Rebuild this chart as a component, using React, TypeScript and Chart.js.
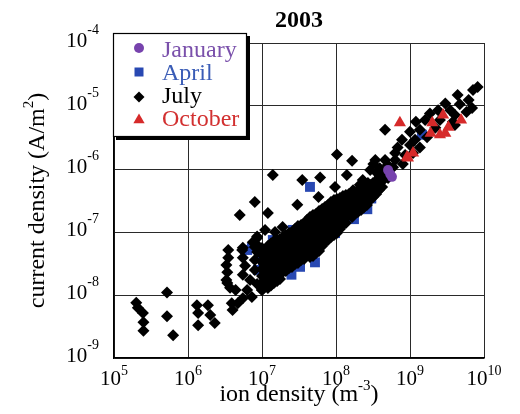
import React, { useEffect, useRef } from 'react';
import { Chart, registerables } from 'chart.js';

Chart.register(...registerables);

// ---------- data ----------
const chartTitle = '2003';
const xAxisTitle = ['ion density (m', '-3', ')'];
const yAxisTitle = ['current density (A/m', '2', ')'];
const xTickExponents = [5, 6, 7, 8, 9, 10];
const yTickExponents = [-9, -8, -7, -6, -5, -4];
const seriesNames = ['January', 'April', 'July', 'October'];

// [ion density m^-3, current density A/m^2]
const januaryPoints: [number, number][] = [
  [5.05e8, 9.6e-7], [5.7e8, 7.5e-7], [5.4e8, 8.3e-7],
];

const aprilPoints: [number, number][] = [
  [1.45e9, 3.5e-6], [4.45e7, 5.2e-7], [2.65e8, 2.3e-7], [9.7e7, 9.6e-8],
  [1.6e7, 7.46e-8], [6.3e6, 5.18e-8], [1.03e7, 3.22e-8], [2.5e7, 2.1e-8],
  [1.0e7, 3.87e-8], [8.8e6, 2.5e-8], [5.2e7, 3.3e-8], [1.13e8, 1.44e-7],
  [1.75e8, 1.6e-7], [2.6e7, 1.08e-7], [7.3e6, 5.57e-8], [1.4e7, 7.46e-8],
  [3.27e7, 2.8e-8], [3.0e8, 3.4e-7],
];

const julyPoints: [number, number][] = [
  // low-density tail
  [5.2e5, 1.1e-8], [2.0e5, 7.5e-9], [2.1e5, 6.3e-9], [2.46e5, 5.2e-9], [2.5e5, 3.7e-9],
  [2.5e5, 2.7e-9], [5.2e5, 4.6e-9], [6.3e5, 2.3e-9], [1.32e6, 6.9e-9], [1.37e6, 5.2e-9],
  [1.37e6, 3.3e-9], [1.86e6, 6.9e-9], [2.0e6, 4.8e-9], [2.3e6, 3.6e-9], [3.9e6, 7.4e-9],
  [4.0e6, 5.8e-9], [3.4e6, 1.55e-8],
  [3.5e6, 5.2e-8], [3.5e6, 3.9e-8], [3.3e6, 3.0e-8], [3.4e6, 2.3e-8], [3.3e6, 1.73e-8],
  [3.7e6, 1.3e-8], [4.4e6, 1.2e-8],
  [5.4e6, 5.2e-8], [5.5e6, 3.9e-8], [5.9e6, 2.9e-8], [5.5e6, 2.1e-8], [6.9e6, 1.73e-8],
  [6.3e6, 1.2e-8], [5.5e6, 8.9e-9], [7.3e6, 9.3e-9], [4.7e6, 7.4e-9], [8.6e6, 1.5e-8],
  [1.0e7, 1.2e-8], [8.0e6, 2.5e-8],
  [8.6e6, 8.0e-8], [8.6e6, 6.2e-8], [8.6e6, 4.8e-8], [8.0e6, 3.6e-8],
  // scattered upper points
  [5.0e6, 1.86e-7], [8.0e6, 3.0e-7], [1.2e7, 2.0e-7], [1.4e7, 8.0e-7], [8.6e6, 8.5e-8],
  [8.0e6, 5.8e-8], [1.1e7, 1.08e-7], [1.5e7, 1.0e-7], [1.9e7, 1.2e-7], [3.0e7, 2.7e-7],
  [3.5e7, 6.7e-7], [6.1e7, 7.3e-7], [5.8e7, 3.6e-7], [1.03e8, 1.7e-6], [1.65e8, 1.35e-6],
  [9.7e7, 5.2e-7], [1.7e8, 4.6e-7], [2.7e8, 6.0e-7], [3.6e8, 8.6e-7], [1.4e8, 8.0e-7],
  [7.5e6, 6.9e-8], [5.5e6, 5.6e-8],
  // upper right
  [8.2e9, 2.0e-5], [7.1e9, 1.8e-5], [4.4e9, 1.5e-5], [6.2e9, 1.25e-5], [4.7e9, 1.07e-5],
  [3.0e9, 1.1e-5], [3.5e9, 8.6e-6], [5.8e9, 8.0e-6], [6.9e9, 9.3e-6], [4.05e9, 7.2e-6],
  [2.4e9, 8.6e-6], [1.86e9, 7.6e-6], [1.6e9, 6.0e-6], [1.2e9, 5.6e-6], [2.54e9, 6.0e-6],
  [3.8e9, 5.6e-6], [1.36e9, 4.2e-6], [1.0e9, 3.9e-6], [2.2e9, 4.5e-6], [4.05e9, 5.0e-6],
  [1.7e9, 3.2e-6], [1.17e9, 2.9e-6], [7.8e8, 2.9e-6], [4.6e8, 4.2e-6], [1.36e9, 2.2e-6],
  [1.0e9, 2.4e-6], [6.8e8, 2.2e-6], [1.1e9, 1.8e-6], [6.3e8, 1.8e-6], [8.6e8, 1.67e-6],
  [8.0e8, 1.2e-6], [6.3e8, 1.39e-6], [4.6e8, 1.39e-6], [3.4e8, 1.39e-6], [5.9e8, 1.07e-6],
  [5.0e8, 1.16e-6], [3.9e8, 1.03e-6], [2.9e8, 9.6e-7], [3.9e8, 7.5e-7], [3.2e8, 1.2e-6],
  [2.3e8, 6.7e-7], [2.1e8, 5.6e-7],
  // dense main band
  [1.0e7, 5.57e-8], [1.0e7, 4.32e-8], [1.0e7, 3.34e-8], [1.0e7, 2.59e-8], [1.0e7, 2.0e-8], [1.0e7, 1.55e-8], [1.0e7, 1.2e-8],
  [1.1e7, 4.9e-8], [1.1e7, 3.8e-8], [1.1e7, 2.94e-8], [1.1e7, 2.28e-8], [1.1e7, 1.76e-8], [1.1e7, 1.36e-8],
  [1.2e7, 6.0e-8], [1.2e7, 4.64e-8], [1.2e7, 3.6e-8], [1.2e7, 2.78e-8], [1.2e7, 2.15e-8], [1.2e7, 1.67e-8], [1.2e7, 1.29e-8],
  [1.32e7, 6.56e-8], [1.32e7, 5.08e-8], [1.32e7, 3.94e-8], [1.32e7, 3.05e-8], [1.32e7, 2.36e-8], [1.32e7, 1.83e-8], [1.32e7, 1.42e-8],
  [1.45e7, 7.2e-8], [1.45e7, 5.57e-8], [1.45e7, 4.32e-8], [1.45e7, 3.34e-8], [1.45e7, 2.59e-8], [1.45e7, 2.0e-8], [1.45e7, 1.55e-8],
  [1.6e7, 7.46e-8], [1.6e7, 5.78e-8], [1.6e7, 4.48e-8], [1.6e7, 3.47e-8], [1.6e7, 2.68e-8], [1.6e7, 2.07e-8], [1.6e7, 1.67e-8],
  [1.75e7, 7.74e-8], [1.75e7, 6.0e-8], [1.75e7, 4.64e-8], [1.75e7, 3.6e-8], [1.75e7, 2.78e-8], [1.75e7, 2.15e-8], [1.75e7, 1.79e-8],
  [1.92e7, 8.33e-8], [1.92e7, 6.45e-8], [1.92e7, 4.99e-8], [1.92e7, 3.87e-8], [1.92e7, 3.0e-8], [1.92e7, 2.32e-8],
  [2.1e7, 8.96e-8], [2.1e7, 6.93e-8], [2.1e7, 5.37e-8], [2.1e7, 4.16e-8], [2.1e7, 3.22e-8], [2.1e7, 2.4e-8],
  [2.32e7, 9.64e-8], [2.32e7, 7.46e-8], [2.32e7, 5.78e-8], [2.32e7, 4.48e-8], [2.32e7, 3.47e-8], [2.32e7, 2.68e-8],
  [2.54e7, 1.0e-7], [2.54e7, 7.74e-8], [2.54e7, 6.0e-8], [2.54e7, 4.64e-8], [2.54e7, 3.6e-8], [2.54e7, 2.78e-8],
  [2.79e7, 1.12e-7], [2.79e7, 8.65e-8], [2.79e7, 6.68e-8], [2.79e7, 5.18e-8], [2.79e7, 4.01e-8], [2.79e7, 3.1e-8],
  [3.06e7, 1.24e-7], [3.06e7, 9.64e-8], [3.06e7, 7.46e-8], [3.06e7, 5.78e-8], [3.06e7, 4.48e-8], [3.06e7, 3.22e-8],
  [3.37e7, 1.29e-7], [3.37e7, 1.0e-7], [3.37e7, 7.74e-8], [3.37e7, 6.0e-8], [3.37e7, 4.64e-8], [3.37e7, 3.6e-8],
  [3.7e7, 1.34e-7], [3.7e7, 1.04e-7], [3.7e7, 8.03e-8], [3.7e7, 6.22e-8], [3.7e7, 4.82e-8], [3.7e7, 3.73e-8],
  [4.05e7, 1.55e-7], [4.05e7, 1.2e-7], [4.05e7, 9.29e-8], [4.05e7, 7.2e-8], [4.05e7, 5.57e-8], [4.05e7, 4.32e-8],
  [4.45e7, 1.73e-7], [4.45e7, 1.34e-7], [4.45e7, 1.04e-7], [4.45e7, 8.03e-8], [4.45e7, 6.22e-8], [4.45e7, 4.99e-8], [4.45e7, 4.01e-8],
  [4.89e7, 1.86e-7], [4.89e7, 1.44e-7], [4.89e7, 1.12e-7], [4.89e7, 8.65e-8], [4.89e7, 6.68e-8], [4.89e7, 5.18e-8], [4.89e7, 4.16e-8],
  [5.37e7, 1.93e-7], [5.37e7, 1.5e-7], [5.37e7, 1.16e-7], [5.37e7, 8.96e-8], [5.37e7, 6.93e-8], [5.37e7, 5.57e-8], [5.37e7, 4.64e-8],
  [5.9e7, 2.15e-7], [5.9e7, 1.67e-7], [5.9e7, 1.29e-7], [5.9e7, 1.0e-7], [5.9e7, 7.74e-8], [5.9e7, 6.22e-8], [5.9e7, 4.99e-8],
  [6.5e7, 2.32e-7], [6.5e7, 1.79e-7], [6.5e7, 1.39e-7], [6.5e7, 1.08e-7], [6.5e7, 8.33e-8], [6.5e7, 6.0e-8],
  [7.1e7, 2.49e-7], [7.1e7, 1.93e-7], [7.1e7, 1.5e-7], [7.1e7, 1.16e-7], [7.1e7, 8.96e-8], [7.1e7, 6.93e-8],
  [7.8e7, 2.68e-7], [7.8e7, 2.08e-7], [7.8e7, 1.61e-7], [7.8e7, 1.24e-7], [7.8e7, 9.64e-8], [7.8e7, 7.46e-8],
  [8.55e7, 2.99e-7], [8.55e7, 2.32e-7], [8.55e7, 1.79e-7], [8.55e7, 1.39e-7], [8.55e7, 1.08e-7], [8.55e7, 8.33e-8],
  [9.4e7, 3.22e-7], [9.4e7, 2.49e-7], [9.4e7, 1.93e-7], [9.4e7, 1.5e-7], [9.4e7, 1.16e-7], [9.4e7, 8.96e-8],
  [1.03e8, 3.34e-7], [1.03e8, 2.59e-7], [1.03e8, 2.0e-7], [1.03e8, 1.55e-7], [1.03e8, 1.2e-7], [1.03e8, 9.64e-8],
  [1.13e8, 3.47e-7], [1.13e8, 2.68e-7], [1.13e8, 2.08e-7], [1.13e8, 1.61e-7], [1.13e8, 1.12e-7],
  [1.24e8, 3.73e-7], [1.24e8, 2.88e-7], [1.24e8, 2.23e-7], [1.24e8, 1.73e-7], [1.24e8, 1.34e-7],
  [1.36e8, 3.87e-7], [1.36e8, 2.99e-7], [1.36e8, 2.32e-7], [1.36e8, 1.79e-7], [1.36e8, 1.39e-7],
  [1.5e8, 4.01e-7], [1.5e8, 3.1e-7], [1.5e8, 2.4e-7], [1.5e8, 1.86e-7],
  [1.65e8, 4.01e-7], [1.65e8, 3.1e-7], [1.65e8, 2.4e-7], [1.65e8, 1.73e-7],
  [1.81e8, 4.32e-7], [1.81e8, 3.34e-7], [1.81e8, 2.59e-7], [1.81e8, 2.0e-7],
  [1.98e8, 4.48e-7], [1.98e8, 3.47e-7], [1.98e8, 2.68e-7], [1.98e8, 2.08e-7],
  [2.18e8, 4.64e-7], [2.18e8, 3.6e-7], [2.18e8, 2.78e-7], [2.18e8, 2.23e-7],
  [2.4e8, 4.82e-7], [2.4e8, 3.87e-7], [2.4e8, 3.1e-7], [2.4e8, 2.49e-7],
  [2.62e8, 5.18e-7], [2.62e8, 4.16e-7], [2.62e8, 3.22e-7], [2.62e8, 2.68e-7],
  [2.9e8, 5.57e-7], [2.9e8, 4.32e-7], [2.9e8, 3.22e-7],
  [3.16e8, 6.0e-7], [3.16e8, 4.64e-7], [3.16e8, 3.6e-7],
  [3.5e8, 6.45e-7], [3.5e8, 5.18e-7], [3.5e8, 4.01e-7],
  [3.81e8, 7.2e-7], [3.81e8, 5.8e-7], [3.81e8, 4.64e-7],
  [4.2e8, 8.03e-7], [4.2e8, 6.45e-7], [4.2e8, 5.18e-7],
  [4.6e8, 8.96e-7], [4.6e8, 7.2e-7],
  [5.05e8, 9.64e-7], [5.05e8, 7.2e-7],
];

const octoberPoints: [number, number][] = [
  [7.3e8, 5.4e-6], [2.0e9, 5.4e-6], [2.8e9, 7.2e-6], [4.9e9, 6.0e-6], [3.3e9, 4.6e-6],
  [1.9e9, 3.7e-6], [2.54e9, 3.5e-6], [3.0e9, 3.7e-6], [9.1e8, 1.55e-6], [9.4e8, 1.5e-6],
  [1.1e9, 1.8e-6],
];

// ---------- styles ----------
const FONT = '"Liberation Serif", "Times New Roman", serif';
const PURPLE = '#7743ad';
const PURPLE_TEXT = '#7a50ab';
const BLUE = '#2848b2';
const BLUE_TEXT = '#3a5cb6';
const RED = '#d62a2a';
const RED_TEXT = '#d23030';

const toXY = (pts: [number, number][]) => pts.map(([x, y]) => ({ x, y }));

function drawMarker(ctx: CanvasRenderingContext2D, style: string, x: number, y: number, color: string) {
  ctx.fillStyle = color;
  ctx.beginPath();
  if (style === 'circle') {
    ctx.arc(x, y, 5, 0, Math.PI * 2);
  } else if (style === 'rect') {
    ctx.rect(x - 4.5, y - 4.5, 9, 9);
  } else if (style === 'rectRot') {
    ctx.moveTo(x, y - 5.5);
    ctx.lineTo(x + 5.5, y);
    ctx.lineTo(x, y + 5.5);
    ctx.lineTo(x - 5.5, y);
    ctx.closePath();
  } else {
    const r = 6.5;
    ctx.moveTo(x, y - r);
    ctx.lineTo(x + r * 0.866, y + r / 2);
    ctx.lineTo(x - r * 0.866, y + r / 2);
    ctx.closePath();
  }
  ctx.fill();
}

const overlayPlugin = {
  id: 'overlay',
  afterDraw(chart: any) {
    const { ctx, chartArea, scales } = chart;
    ctx.save();
    ctx.fillStyle = '#000';
    ctx.textAlign = 'left';
    ctx.textBaseline = 'alphabetic';

    // x tick labels
    xTickExponents.forEach((e) => {
      const px = scales.x.getPixelForValue(Math.pow(10, e));
      ctx.font = `21px ${FONT}`;
      const w1 = ctx.measureText('10').width;
      ctx.font = `14px ${FONT}`;
      const w2 = ctx.measureText(String(e)).width;
      const start = px - (w1 + w2) / 2;
      ctx.font = `21px ${FONT}`;
      ctx.fillText('10', start, chartArea.bottom + 27);
      ctx.font = `14px ${FONT}`;
      ctx.fillText(String(e), start + w1, chartArea.bottom + 17);
    });

    // y tick labels
    yTickExponents.forEach((e) => {
      const py = scales.y.getPixelForValue(Math.pow(10, e));
      ctx.font = `21px ${FONT}`;
      const w1 = ctx.measureText('10').width;
      ctx.font = `14px ${FONT}`;
      const w2 = ctx.measureText(String(e)).width;
      const right = chartArea.left - 15;
      ctx.font = `21px ${FONT}`;
      ctx.fillText('10', right - w1 - w2, py + 4);
      ctx.font = `14px ${FONT}`;
      ctx.fillText(String(e), right - w2, py - 9);
    });

    // composite text with superscript
    const drawSup = (parts: string[], cx: number, baseline: number) => {
      ctx.font = `24px ${FONT}`;
      const a = ctx.measureText(parts[0]).width;
      const c = ctx.measureText(parts[2]).width;
      ctx.font = `15px ${FONT}`;
      const b = ctx.measureText(parts[1]).width;
      let x = cx - (a + b + c) / 2;
      ctx.font = `24px ${FONT}`;
      ctx.fillText(parts[0], x, baseline);
      x += a;
      ctx.font = `15px ${FONT}`;
      ctx.fillText(parts[1], x, baseline - 11);
      x += b;
      ctx.font = `24px ${FONT}`;
      ctx.fillText(parts[2], x, baseline);
    };

    const cx = (chartArea.left + chartArea.right) / 2;
    const cy = (chartArea.top + chartArea.bottom) / 2;
    drawSup(xAxisTitle, cx, 401);

    ctx.save();
    ctx.translate(44, cy);
    ctx.rotate(-Math.PI / 2);
    drawSup(yAxisTitle, 0, 0);
    ctx.restore();

    // title
    ctx.font = `bold 24px ${FONT}`;
    ctx.textAlign = 'center';
    ctx.fillText(chartTitle, cx, 27);
    ctx.textAlign = 'left';

    // legend box with shadow
    const lx = 113, ly = 33, lw = 134, lh = 104;
    ctx.fillStyle = '#000';
    ctx.fillRect(lx + 3, ly + 3, lw, lh);
    ctx.fillStyle = '#fff';
    ctx.fillRect(lx, ly, lw, lh);
    ctx.strokeStyle = '#000';
    ctx.lineWidth = 1.2;
    ctx.strokeRect(lx + 0.5, ly + 0.5, lw - 1, lh - 1);

    const styles = ['circle', 'rect', 'rectRot', 'triangle'];
    const markerColors = [PURPLE, BLUE, '#000', RED];
    const textColors = [PURPLE_TEXT, BLUE_TEXT, '#000', RED_TEXT];
    const markerY = [48, 72, 97, 120];
    const textY = [57, 80, 103, 126];
    seriesNames.forEach((name, i) => {
      drawMarker(ctx, styles[i], 139, markerY[i], markerColors[i]);
      ctx.fillStyle = textColors[i];
      ctx.font = `24px ${FONT}`;
      ctx.fillText(name, 162, textY[i]);
    });
    ctx.restore();
  },
};

export default function App() {
  const ref = useRef<HTMLCanvasElement>(null);
  useEffect(() => {
    const decadeTicks = (exps: number[]) => (axis: any) => {
      axis.ticks = exps.map((e) => ({ value: Math.pow(10, e) }));
    };
    const gridOpts = { color: '#2a2a2a', lineWidth: 1, drawTicks: false };
    const chart = new Chart(ref.current as HTMLCanvasElement, {
      type: 'scatter',
      data: {
        datasets: [
          { label: seriesNames[0], data: toXY(januaryPoints), pointStyle: 'circle', pointRadius: 5, backgroundColor: PURPLE, borderWidth: 0, order: 1 },
          { label: seriesNames[1], data: toXY(aprilPoints), pointStyle: 'rect', pointRadius: 7, backgroundColor: BLUE, borderWidth: 0, order: 3 },
          { label: seriesNames[2], data: toXY(julyPoints), pointStyle: 'rectRot', pointRadius: 6, backgroundColor: '#000', borderWidth: 0, order: 2 },
          { label: seriesNames[3], data: toXY(octoberPoints), pointStyle: 'triangle', pointRadius: 7, backgroundColor: RED, borderWidth: 0, order: 0 },
        ],
      },
      options: {
        responsive: false,
        animation: false,
        events: [],
        layout: { padding: { left: 114, right: 36, top: 43, bottom: 56 } },
        plugins: { legend: { display: false }, tooltip: { enabled: false }, title: { display: false } },
        scales: {
          x: {
            type: 'logarithmic', min: 1e5, max: 1e10,
            ticks: { display: false },
            grid: gridOpts,
            border: { display: true, color: '#000', width: 1.5 },
            afterBuildTicks: decadeTicks(xTickExponents),
          } as any,
          y: {
            type: 'logarithmic', min: 1e-9, max: 1e-4,
            ticks: { display: false },
            grid: gridOpts,
            border: { display: true, color: '#000', width: 1.5 },
            afterBuildTicks: decadeTicks(yTickExponents),
          } as any,
        },
      },
      plugins: [overlayPlugin],
    });
    return () => chart.destroy();
  }, []);
  return (
    <div style={{ position: 'absolute', left: 0, top: 0, width: 520, height: 414, background: '#fff' }}>
      <canvas ref={ref} width={520} height={414} style={{ display: 'block' }} />
    </div>
  );
}
